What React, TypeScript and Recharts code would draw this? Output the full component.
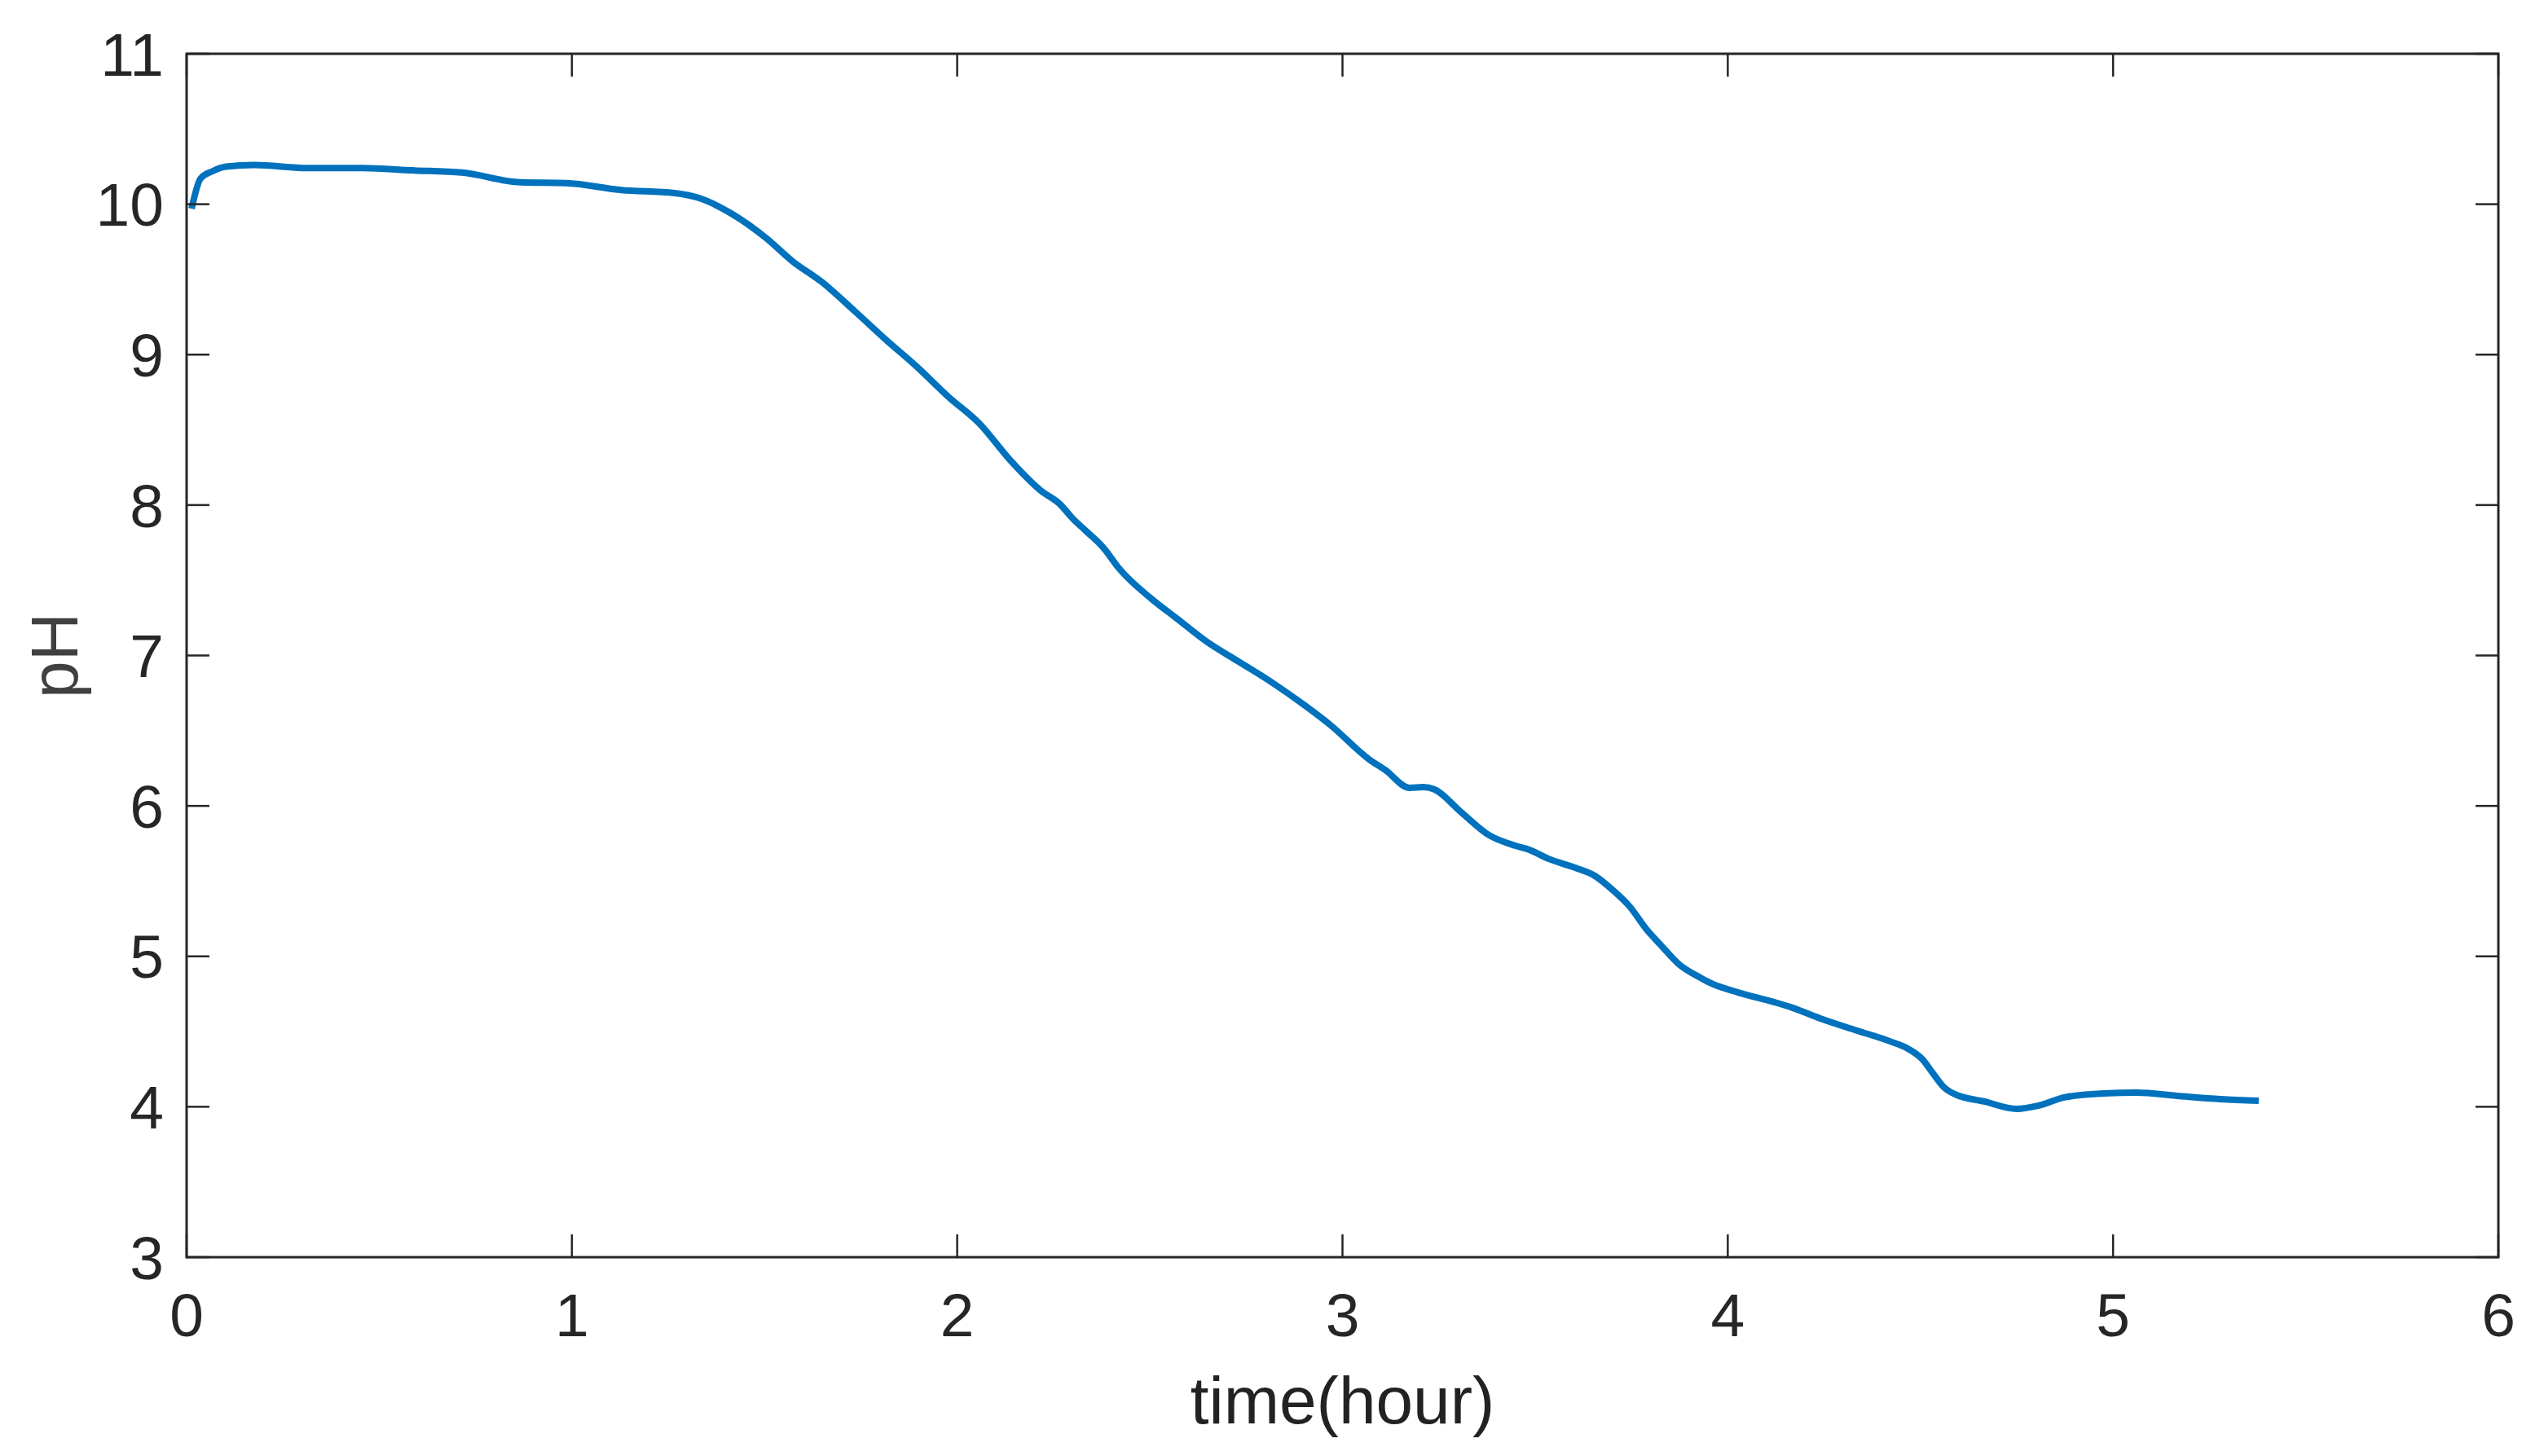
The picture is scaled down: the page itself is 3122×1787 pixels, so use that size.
import React from 'react';
import { LineChart, Line, XAxis, YAxis, Label, ReferenceArea } from 'recharts';

const timeHours = [
  0.013, 0.036, 0.068, 0.102, 0.176, 0.317, 0.457, 0.586, 0.715, 0.867,
  0.986, 1.125, 1.267, 1.33, 1.417, 1.504, 1.571, 1.651, 1.734, 1.815,
  1.895, 1.977, 2.058, 2.138, 2.219, 2.265, 2.301, 2.335, 2.381, 2.419,
  2.504, 2.567, 2.646, 2.73, 2.815, 2.9, 2.969, 3.069, 3.111, 3.174,
  3.21, 3.238, 3.308, 3.38, 3.449, 3.485, 3.534, 3.604, 3.655, 3.703,
  3.746, 3.788, 3.83, 3.872, 3.929, 3.957, 4.027, 4.12, 4.168, 4.24,
  4.336, 4.42, 4.467, 4.505, 4.532, 4.562, 4.589, 4.666, 4.75, 4.807,
  4.873, 4.976, 5.061, 5.165, 5.279, 5.378,
];

const phValues = [
  9.97, 10.17, 10.22, 10.25, 10.26, 10.24, 10.24, 10.225, 10.21, 10.145,
  10.14, 10.095, 10.074, 10.041, 9.933, 9.775, 9.624, 9.478, 9.289, 9.099,
  8.92, 8.72, 8.541, 8.297, 8.092, 8.01, 7.907, 7.826, 7.712, 7.582,
  7.377, 7.252, 7.095, 6.96, 6.824, 6.672, 6.537, 6.31, 6.239, 6.12,
  6.125, 6.11, 5.958, 5.806, 5.735, 5.708, 5.649, 5.589, 5.535, 5.437,
  5.329, 5.183, 5.064, 4.95, 4.858, 4.82, 4.76, 4.696, 4.658, 4.587,
  4.506, 4.436, 4.387, 4.316, 4.224, 4.127, 4.084, 4.035, 3.986, 4.008,
  4.062, 4.089, 4.094, 4.073, 4.051, 4.04,
];

const xTicks = [0, 1, 2, 3, 4, 5, 6];
const yTicks = [3, 4, 5, 6, 7, 8, 9, 10, 11];
const xLabel = 'time(hour)';
const yLabel = 'pH';

const data = timeHours.map((t, i) => ({ t, ph: phValues[i] }));

const FONT = 'Liberation Sans, Arial, Helvetica, sans-serif';
const AXIS_COLOR = '#262626';
const TICK_FONT = 75;
const CHART_W = 3106;
const CHART_H = 1771;
const MARGIN = { top: 58, right: 48, bottom: 36, left: 0 };
const Y_AXIS_W = 221;
const X_AXIS_H = 200;
const PLOT_TOP = MARGIN.top;
const PLOT_RIGHT = CHART_W - MARGIN.right;
const TICK_LEN = 28;
const X_LABEL_GAP = 44;
const Y_LABEL_GAP = 28;

const XTick = (props: any) => {
  const { x, y, payload } = props;
  const axisY = y - X_LABEL_GAP;
  return (
    <g>
      <line x1={x} x2={x} y1={axisY} y2={axisY - TICK_LEN} stroke={AXIS_COLOR} strokeWidth={2.5} />
      <line x1={x} x2={x} y1={PLOT_TOP} y2={PLOT_TOP + TICK_LEN} stroke={AXIS_COLOR} strokeWidth={2.5} />
      <text x={x} y={y} dy="0.71em" textAnchor="middle" fill={AXIS_COLOR} fontSize={TICK_FONT} fontFamily={FONT}>
        {payload.value}
      </text>
    </g>
  );
};

const YTick = (props: any) => {
  const { x, y, payload } = props;
  const axisX = x + Y_LABEL_GAP;
  return (
    <g>
      <line x1={axisX} x2={axisX + TICK_LEN} y1={y} y2={y} stroke={AXIS_COLOR} strokeWidth={2.5} />
      <line x1={PLOT_RIGHT} x2={PLOT_RIGHT - TICK_LEN} y1={y} y2={y} stroke={AXIS_COLOR} strokeWidth={2.5} />
      <text x={x} y={y} dy="0.355em" textAnchor="end" fill={AXIS_COLOR} fontSize={TICK_FONT} fontFamily={FONT}>
        {payload.value}
      </text>
    </g>
  );
};

export default function App() {
  return (
    <div style={{ width: CHART_W, height: CHART_H, background: '#fff' }}>
      <LineChart width={CHART_W} height={CHART_H} data={data} margin={MARGIN}>
        <ReferenceArea
          x1={0}
          x2={6}
          y1={3}
          y2={11}
          fill="none"
          fillOpacity={0}
          stroke={AXIS_COLOR}
          strokeWidth={3}
          ifOverflow="visible"
        />
        <XAxis
          dataKey="t"
          type="number"
          domain={[0, 6]}
          ticks={xTicks}
          interval={0}
          height={X_AXIS_H}
          allowDataOverflow
          axisLine={false}
          tickLine={false}
          tickSize={0}
          tickMargin={X_LABEL_GAP}
          tick={<XTick />}
        >
          <Label
            content={(props: any) => {
              const vb = props.viewBox || {};
              return (
                <text
                  x={vb.x + vb.width / 2}
                  y={1739}
                  textAnchor="middle"
                  fill="#222222"
                  fontSize={82}
                  fontFamily={FONT}
                >
                  {xLabel}
                </text>
              );
            }}
          />
        </XAxis>
        <YAxis
          type="number"
          domain={[3, 11]}
          ticks={yTicks}
          interval={0}
          width={Y_AXIS_W}
          allowDataOverflow
          axisLine={false}
          tickLine={false}
          tickSize={0}
          tickMargin={Y_LABEL_GAP}
          tick={<YTick />}
        >
          <Label
            content={(props: any) => {
              const vb = props.viewBox || {};
              const cy = vb.y + vb.height / 2;
              const cx = 87;
              return (
                <text
                  x={cx}
                  y={cy}
                  textAnchor="middle"
                  transform={`rotate(-90, ${cx}, ${cy})`}
                  fill="#404040"
                  fontSize={82}
                  fontFamily={FONT}
                >
                  {yLabel}
                </text>
              );
            }}
          />
        </YAxis>
        <Line
          type="monotone"
          dataKey="ph"
          stroke="#0072BD"
          strokeWidth={8}
          dot={false}
          activeDot={false}
          isAnimationActive={false}
        />
      </LineChart>
    </div>
  );
}
